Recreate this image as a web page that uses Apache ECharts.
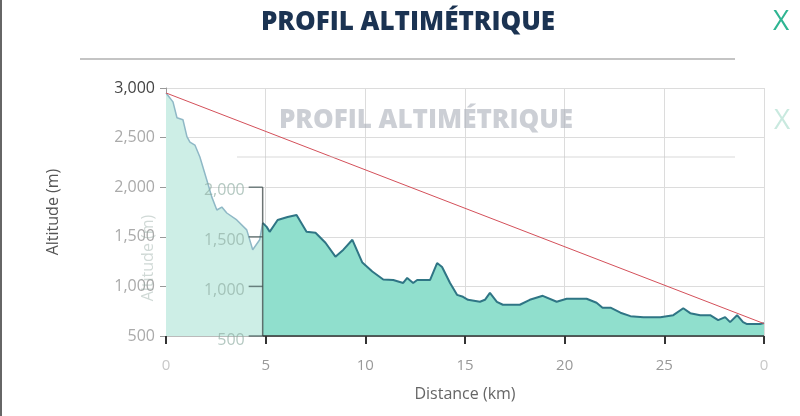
<!DOCTYPE html>
<html><head><meta charset="utf-8">
<script src="https://cdn.jsdelivr.net/npm/echarts@6/dist/echarts.min.js"></script>
<style>html,body{margin:0;padding:0;background:#fff}#c{width:800px;height:416px}</style>
</head><body><div id="c"></div>
<script>
const titleText = 'PROFIL ALTIMÉTRIQUE';
const xName = 'Distance (km)';
const yName = 'Altitude (m)';
const ghostYLabels = ['2,000', '1,500', '1,000', '500'];
const ghostYValues = [2000, 1500, 1000, 500];
const splitKm = 4.85;
// profile (km, altitude m)
const distKm = [0,0.35,0.55,0.85,1.05,1.2,1.45,1.7,2.05,2.3,2.55,2.8,3.05,3.55,4.05,4.35,4.7,4.85,5.05,5.2,5.6,6.1,6.55,7.05,7.5,8.0,8.5,8.9,9.35,9.85,10.35,10.9,11.4,11.9,12.1,12.4,12.6,13.25,13.6,13.85,14.25,14.6,14.9,15.15,15.75,16.0,16.25,16.6,16.9,17.75,18.25,18.9,19.6,20.1,21.1,21.6,21.9,22.3,22.8,23.3,23.95,24.8,25.45,25.95,26.3,26.8,27.3,27.7,28.05,28.3,28.65,28.95,29.15,29.8,30];
const altM = [2950,2860,2700,2680,2510,2455,2425,2305,2070,1900,1770,1800,1740,1670,1570,1370,1470,1640,1600,1550,1670,1700,1720,1550,1540,1440,1300,1370,1470,1240,1150,1070,1065,1035,1085,1035,1065,1065,1235,1195,1035,915,895,865,845,865,935,845,815,815,865,905,845,875,875,835,785,785,735,700,690,690,710,780,730,710,710,660,690,640,710,640,620,620,630];
const slopeKm = [0, 30];
const slopeAlt = [2950, 625];

const leftPts = [], rightPts = [];
distKm.forEach((d, i) => {
  if (d <= splitKm) leftPts.push([d, altM[i]]);
  if (d >= splitKm) rightPts.push([d, altM[i]]);
});
const slopePts = slopeKm.map((d, i) => [d, slopeAlt[i]]);

const chart = echarts.init(document.getElementById('c'), null, {renderer: 'canvas'});
const option = {
  animation: false,
  backgroundColor: '#fff',
  grid: {left: 166, right: 36, top: 88, bottom: 80},
  xAxis: {
    type: 'value', min: 0, max: 30, interval: 5,
    name: xName, nameLocation: 'middle', nameGap: 50,
    nameTextStyle: {fontFamily: 'Open Sans', fontSize: 16, color: '#666'},
    axisLine: {lineStyle: {color: '#bbb', width: 1}},
    axisTick: {show: true, length: 8, lineStyle: {color: '#333', width: 2}},
    axisLabel: {margin: 22, fontFamily: 'Open Sans', fontSize: 15, color: '#999',
      formatter: v => (v === 30 || v === 0) ? '{f|0}' : String(v),
      rich: {f: {color: '#c8c8c8', fontFamily: 'Open Sans', fontSize: 15}}},
    splitLine: {show: true, lineStyle: {color: '#dcdcdc', width: 1}}
  },
  yAxis: {
    type: 'value', min: 500, max: 3000, interval: 500,
    name: yName, nameLocation: 'middle', nameGap: 105, nameRotate: 90,
    nameTextStyle: {fontFamily: 'Open Sans', fontSize: 16, color: '#555'},
    axisLine: {show: true, lineStyle: {color: '#999', width: 1}},
    axisTick: {show: true, length: 6, lineStyle: {color: '#999'}},
    axisLabel: {margin: 11, fontFamily: 'Open Sans', fontSize: 16, color: '#aaa',
      formatter: v => v === 3000 ? '{d|3,000}' : v.toLocaleString('en-US'),
      rich: {d: {color: '#444', fontFamily: 'Open Sans', fontSize: 16}}},
    splitLine: {show: true, lineStyle: {color: '#dcdcdc', width: 1}}
  },
  series: [
    {type: 'line', data: leftPts, symbol: 'none', z: 2,
     lineStyle: {color: '#8fb8c6', width: 1.5},
     areaStyle: {color: '#cdeee6', opacity: 1}},
    {type: 'line', data: rightPts, symbol: 'none', z: 3,
     lineStyle: {color: '#2f7585', width: 2},
     areaStyle: {color: '#90dfcd', opacity: 1}},
    {type: 'line', data: slopePts, symbol: 'none', z: 4,
     lineStyle: {color: '#d4505a', width: 1}}
  ]
};
chart.setOption(option);

// ghost overlay (a faded second panel) positioned via the chart's own scales
const px = (x, y) => chart.convertToPixel({gridIndex: 0}, [x, y]);
const gx = px(splitKm, 500)[0];
const yTop = px(0, 2000)[1];
const yBot = px(0, 500)[1];
const xEnd = px(30, 500)[0];
const ghost = [];
ghostYValues.forEach((v, i) => {
  const y = px(0, v)[1];
  ghost.push({type: 'text', x: gx - 18, y: y + (v === 2000 ? 3 : 4), style: {text: ghostYLabels[i], fill: 'rgba(140,170,160,0.65)', font: '16px "Open Sans"', textAlign: 'right', textVerticalAlign: 'middle'}, z: 10});
  ghost.push({type: 'line', shape: {x1: gx - 14, y1: y, x2: gx, y2: y}, style: {stroke: 'rgba(60,80,80,0.7)', lineWidth: 1.5}, z: 10});
});
ghost.push({type: 'line', shape: {x1: gx, y1: yTop, x2: gx, y2: yBot}, style: {stroke: 'rgba(60,70,70,0.75)', lineWidth: 1.5}, z: 10});
ghost.push({type: 'line', shape: {x1: gx, y1: yBot, x2: xEnd, y2: yBot}, style: {stroke: '#333', lineWidth: 1.5}, z: 10});
ghost.push({type: 'text', x: 148, y: 258, rotation: Math.PI / 2, style: {text: yName, fill: 'rgba(150,170,165,0.45)', font: '16px "Open Sans"', textAlign: 'center', textVerticalAlign: 'middle'}, z: 10});
chart.setOption({
  graphic: [
    {type: 'rect', shape: {x: 0, y: 0, width: 2, height: 416}, style: {fill: '#666'}},
    {type: 'text', x: 408, y: 23, style: {text: titleText, fill: '#1b3352', font: '800 26px "Open Sans"', textAlign: 'center', textVerticalAlign: 'middle'}},
    {type: 'text', x: 781, y: 22, style: {text: 'X', fill: '#2fb592', font: '28px "Open Sans"', textAlign: 'center', textVerticalAlign: 'middle'}},
    {type: 'rect', shape: {x: 80, y: 58, width: 655, height: 2}, style: {fill: '#c4c4c4'}},
    {type: 'text', x: 426, y: 121, style: {text: titleText, fill: 'rgba(170,175,185,0.6)', font: '800 26px "Open Sans"', textAlign: 'center', textVerticalAlign: 'middle'}, z: 10},
    {type: 'text', x: 782, y: 121, style: {text: 'X', fill: 'rgba(120,200,175,0.4)', font: '28px "Open Sans"', textAlign: 'center', textVerticalAlign: 'middle'}, z: 10},
    {type: 'rect', shape: {x: 237, y: 156, width: 498, height: 2}, style: {fill: 'rgba(200,200,200,0.35)'}, z: 10}
  ].concat(ghost)
});
</script></body></html>
